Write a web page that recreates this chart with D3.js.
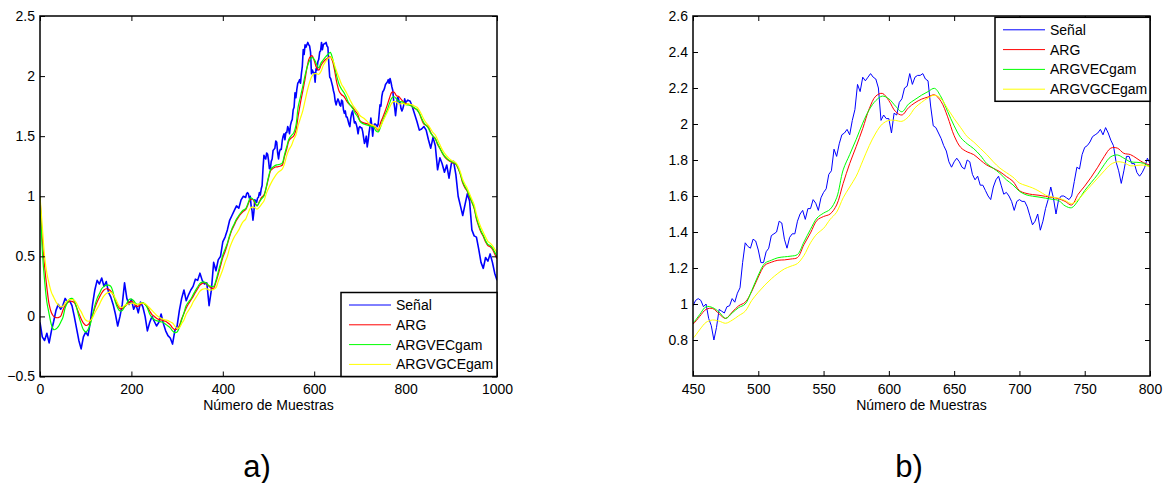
<!DOCTYPE html>
<html>
<head>
<meta charset="utf-8">
<script src="https://cdn.jsdelivr.net/npm/d3@7/dist/d3.min.js"></script>
<style>
  body { margin: 0; background: #ffffff; }
  text { font-family: "Liberation Sans", Arial, Helvetica, sans-serif; }
</style>
</head>
<body>
<svg id="fig" width="1172" height="483"></svg>
<script>
// ---- series names ----
const series = ["Señal", "ARG", "ARGVECgam", "ARGVGCEgam"];

// ---- measured signal: samples 0..450 every 5 ----
const senalTramo1 = [
  -0.05,-0.17,-0.2,-0.14,-0.22,-0.12,-0.04,0.05,0.1,0.06,
  0.09,0.15,0.12,0.13,0.09,0.0,-0.1,-0.2,-0.27,-0.17,
  -0.13,-0.16,-0.05,0.1,0.22,0.3,0.27,0.32,0.25,0.29,
  0.2,0.16,0.1,0.02,-0.08,0.0,0.1,0.28,0.15,0.1,
  0.14,0.06,0.1,0.03,0.12,0.08,0.0,-0.12,-0.05,0.0,
  -0.04,-0.08,-0.05,0.02,-0.06,-0.12,-0.16,-0.18,-0.23,-0.12,
  -0.08,0.05,0.15,0.22,0.13,0.18,0.22,0.25,0.31,0.3,
  0.36,0.3,0.27,0.28,0.09,0.22,0.45,0.38,0.47,0.5,
  0.62,0.66,0.72,0.8,0.84,0.88,0.92,0.9,0.97,1.0,
  0.99
];
// ---- measured signal: samples 452..800 every 2 ----
const senalTramo2 = [
  1.02,1.03,1.02,0.985,1.0,0.92,0.88,0.8,0.87,0.97,
  0.96,0.95,0.985,0.99,1.03,1.01,1.06,1.09,1.23,1.34,
  1.32,1.31,1.36,1.35,1.3,1.23,1.23,1.29,1.31,1.38,
  1.39,1.4,1.46,1.45,1.36,1.31,1.37,1.39,1.39,1.46,
  1.5,1.52,1.47,1.53,1.53,1.58,1.56,1.52,1.59,1.62,
  1.64,1.72,1.74,1.86,1.82,1.89,1.94,1.95,1.97,1.94,
  2.02,2.08,2.22,2.18,2.26,2.24,2.26,2.28,2.26,2.25,
  2.2,2.02,2.05,2.03,2.03,1.95,2.06,2.05,2.12,2.14,
  2.2,2.21,2.28,2.22,2.26,2.27,2.27,2.28,2.25,2.24,
  2.1,1.99,1.98,1.95,1.92,1.88,1.85,1.79,1.76,1.79,
  1.81,1.79,1.76,1.75,1.8,1.79,1.72,1.69,1.71,1.66,
  1.66,1.63,1.6,1.58,1.65,1.69,1.71,1.66,1.61,1.62,
  1.6,1.57,1.52,1.57,1.58,1.57,1.57,1.54,1.49,1.44,
  1.46,1.5,1.41,1.46,1.53,1.58,1.65,1.59,1.5,1.58,
  1.6,1.6,1.59,1.58,1.6,1.68,1.76,1.75,1.83,1.87,
  1.88,1.9,1.93,1.94,1.95,1.97,1.94,1.98,1.95,1.91,
  1.88,1.79,1.74,1.67,1.74,1.82,1.82,1.78,1.78,1.73,
  1.71,1.73,1.76,1.81,1.78
];
// ---- measured signal: samples 805..1000 every 5 ----
const senalTramo3 = [
  1.8,1.79,1.74,1.68,1.62,1.55,1.56,1.58,1.55,1.47,
  1.4,1.49,1.42,1.22,1.32,1.27,1.2,1.26,1.15,1.27,
  1.29,1.18,1.0,0.92,0.84,0.93,1.02,0.96,0.72,0.67,
  0.66,0.56,0.45,0.4,0.49,0.46,0.52,0.45,0.36,0.3
];

// ---- estimates, samples 0..1000 every 5 ----
const estArg = [
  1.0,0.65,0.42,0.24,0.1,0.03,0.0,-0.01,-0.01,0.0,
  0.05,0.09,0.115,0.125,0.125,0.115,0.075,0.025,-0.02,-0.055,
  -0.075,-0.07,-0.04,0.01,0.07,0.12,0.16,0.195,0.22,0.23,
  0.225,0.21,0.18,0.13,0.09,0.065,0.065,0.08,0.1,0.12,
  0.125,0.115,0.085,0.085,0.1,0.11,0.1,0.08,0.045,0.015,
  0.0,-0.015,-0.025,-0.03,-0.035,-0.04,-0.055,-0.07,-0.095,-0.11,
  -0.105,-0.075,-0.02,0.025,0.07,0.105,0.135,0.165,0.2,0.23,
  0.26,0.275,0.28,0.27,0.25,0.235,0.235,0.285,0.35,0.42,
  0.49,0.54,0.6,0.665,0.72,0.76,0.8,0.83,0.855,0.875,
  0.889,0.93,0.97,0.975,0.945,0.92,0.955,0.99,1.01,1.07,
  1.15,1.215,1.232,1.243,1.245,1.25,1.258,1.33,1.395,1.465,
  1.486,1.5,1.55,1.67,1.78,1.875,1.975,2.085,2.155,2.17,
  2.13,2.07,2.05,2.09,2.118,2.138,2.15,2.162,2.125,2.04,
  1.935,1.87,1.845,1.83,1.8,1.772,1.754,1.735,1.708,1.682,
  1.63,1.615,1.608,1.604,1.598,1.592,1.585,1.57,1.55,1.61,
  1.655,1.705,1.76,1.82,1.866,1.866,1.837,1.83,1.808,1.785,
  1.772,1.77,1.76,1.745,1.73,1.72,1.69,1.64,1.6,1.59,
  1.575,1.53,1.5,1.48,1.43,1.4,1.36,1.33,1.31,1.295,
  1.285,1.275,1.265,1.23,1.18,1.11,1.07,1.04,0.99,0.95,
  0.9,0.81,0.75,0.7,0.665,0.62,0.59,0.58,0.56,0.52,
  0.48
];
const estArgVec = [
  1.0,0.55,0.3,0.12,0.02,-0.07,-0.11,-0.105,-0.085,-0.05,
  -0.01,0.07,0.115,0.145,0.15,0.13,0.075,0.0,-0.06,-0.11,
  -0.13,-0.11,-0.065,0.01,0.09,0.15,0.19,0.23,0.25,0.26,
  0.26,0.25,0.2,0.12,0.07,0.045,0.05,0.08,0.11,0.14,
  0.145,0.13,0.105,0.1,0.11,0.115,0.1,0.07,0.02,-0.01,
  -0.025,-0.035,-0.04,-0.045,-0.05,-0.065,-0.08,-0.095,-0.12,-0.135,
  -0.13,-0.09,-0.03,0.03,0.09,0.12,0.145,0.18,0.215,0.245,
  0.275,0.285,0.285,0.275,0.255,0.25,0.25,0.3,0.37,0.44,
  0.51,0.56,0.61,0.675,0.73,0.77,0.81,0.84,0.865,0.885,
  0.896,0.94,0.985,0.98,0.955,0.92,0.95,0.98,1.0,1.075,
  1.16,1.226,1.243,1.257,1.262,1.266,1.275,1.345,1.415,1.478,
  1.505,1.526,1.59,1.745,1.83,1.915,2.005,2.08,2.13,2.155,
  2.14,2.1,2.068,2.11,2.136,2.16,2.18,2.198,2.15,2.07,
  1.99,1.925,1.89,1.863,1.826,1.78,1.754,1.726,1.69,1.662,
  1.626,1.607,1.599,1.594,1.588,1.582,1.575,1.545,1.535,1.575,
  1.63,1.675,1.72,1.775,1.818,1.828,1.81,1.79,1.787,1.782,
  1.763,1.76,1.755,1.745,1.735,1.72,1.69,1.65,1.61,1.59,
  1.565,1.525,1.5,1.48,1.44,1.4,1.365,1.335,1.315,1.3,
  1.29,1.28,1.27,1.235,1.185,1.12,1.08,1.045,1.0,0.955,
  0.905,0.82,0.76,0.71,0.675,0.63,0.6,0.59,0.57,0.535,
  0.5
];
const estArgVgce = [
  1.0,0.75,0.5,0.36,0.27,0.2,0.16,0.12,0.095,0.08,
  0.085,0.11,0.13,0.14,0.14,0.135,0.11,0.07,0.04,0.0,
  -0.03,-0.04,-0.035,-0.01,0.03,0.065,0.1,0.14,0.17,0.19,
  0.2,0.2,0.185,0.15,0.11,0.08,0.075,0.09,0.1,0.105,
  0.11,0.11,0.1,0.1,0.11,0.11,0.105,0.09,0.07,0.05,
  0.03,0.01,-0.005,-0.015,-0.025,-0.03,-0.035,-0.045,-0.055,-0.08,
  -0.1,-0.095,-0.06,-0.03,0.02,0.05,0.08,0.12,0.15,0.18,
  0.21,0.225,0.23,0.23,0.22,0.22,0.225,0.24,0.29,0.34,
  0.39,0.45,0.5,0.57,0.62,0.66,0.69,0.72,0.76,0.79,
  0.81,0.856,0.898,0.911,0.905,0.893,0.91,0.935,0.96,1.02,
  1.065,1.105,1.14,1.17,1.195,1.21,1.225,1.27,1.34,1.39,
  1.42,1.47,1.51,1.59,1.65,1.71,1.795,1.88,1.95,2.0,
  2.02,2.02,2.015,2.04,2.09,2.12,2.145,2.16,2.14,2.085,
  2.03,1.98,1.93,1.9,1.865,1.83,1.79,1.755,1.73,1.705,
  1.672,1.658,1.645,1.627,1.605,1.594,1.588,1.575,1.558,1.58,
  1.62,1.66,1.7,1.74,1.776,1.79,1.785,1.768,1.77,1.772,
  1.763,1.77,1.765,1.76,1.75,1.74,1.715,1.68,1.64,1.61,
  1.59,1.56,1.53,1.51,1.47,1.43,1.39,1.36,1.335,1.315,
  1.3,1.29,1.28,1.25,1.2,1.14,1.1,1.065,1.02,0.975,
  0.93,0.85,0.79,0.74,0.7,0.66,0.625,0.61,0.59,0.56,
  0.53
];

// ---- axis ticks ----
const ticksXa = [0, 200, 400, 600, 800, 1000];
const ticksYa = [-0.5, 0, 0.5, 1, 1.5, 2, 2.5];
const ticksXb = [450, 500, 550, 600, 650, 700, 750, 800];
const ticksYb = [0.8, 1, 1.2, 1.4, 1.6, 1.8, 2, 2.2, 2.4, 2.6];
const etiquetasPanel = ["a)", "b)"];
const tituloX = "Número de Muestras";

// ---- sample indices for each series ----
const muestrasSenal = d3.range(0, 451, 5)
  .concat(d3.range(452, 801, 2))
  .concat(d3.range(805, 1001, 5));
const valoresSenal = senalTramo1.concat(senalTramo2, senalTramo3);
const muestrasEst = d3.range(0, 1001, 5);

const curvas = [
  d3.zip(muestrasSenal, valoresSenal),
  d3.zip(muestrasEst, estArg),
  d3.zip(muestrasEst, estArgVec),
  d3.zip(muestrasEst, estArgVgce)
];
const colores = ["#0000ff", "#ff0000", "#00ff00", "#ffff00"];

const svg = d3.select("#fig");
const defs = svg.append("defs");

function fmtY(d) {
  const s = String(+d.toFixed(2));
  return d < 0 ? "\u2212" + s.slice(1) : s;
}

function dibujarPanel(cfg) {
  const x = d3.scaleLinear().domain(cfg.dominioX).range([cfg.izq, cfg.der]);
  const y = d3.scaleLinear().domain(cfg.dominioY).range([cfg.abajo, cfg.arriba]);
  const g = svg.append("g");

  defs.append("clipPath").attr("id", "clip-" + cfg.id)
    .append("rect")
    .attr("x", cfg.izq).attr("y", cfg.arriba)
    .attr("width", cfg.der - cfg.izq).attr("height", cfg.abajo - cfg.arriba);

  const trazos = g.append("g").attr("clip-path", `url(#clip-${cfg.id})`);
  curvas.forEach((pts, i) => {
    const linea = d3.line()
      .x(d => x(d[0])).y(d => y(d[1]))
      .curve(i === 0 ? d3.curveLinear : d3.curveCatmullRom.alpha(0.5));
    trazos.append("path")
      .datum(pts)
      .attr("d", linea)
      .attr("fill", "none")
      .attr("stroke", colores[i])
      .attr("stroke-width", i === 0 ? cfg.grosorSenal : cfg.grosor)
      .attr("stroke-linejoin", "round");
  });

  const estilo = sel => {
    sel.select(".domain").remove();
    sel.attr("font-size", 14)
       .attr("font-family", '"Liberation Sans", Arial, sans-serif');
    sel.selectAll(".tick line").attr("stroke", "#000").attr("stroke-width", 1);
    sel.selectAll(".tick text").attr("fill", "#000");
  };

  g.append("g").attr("transform", `translate(0,${cfg.abajo})`)
    .call(d3.axisBottom(x).tickValues(cfg.ticksX).tickSize(-5).tickSizeOuter(0)
      .tickPadding(8).tickFormat(d => String(d)))
    .call(estilo);
  g.append("g").attr("transform", `translate(0,${cfg.arriba})`)
    .call(d3.axisTop(x).tickValues(cfg.ticksX).tickSize(-5).tickSizeOuter(0).tickFormat(""))
    .call(estilo);
  g.append("g").attr("transform", `translate(${cfg.izq},0)`)
    .call(d3.axisLeft(y).tickValues(cfg.ticksY).tickSize(-5).tickSizeOuter(0)
      .tickPadding(5).tickFormat(fmtY))
    .call(estilo);
  g.append("g").attr("transform", `translate(${cfg.der},0)`)
    .call(d3.axisRight(y).tickValues(cfg.ticksY).tickSize(-5).tickSizeOuter(0).tickFormat(""))
    .call(estilo);

  // axes box
  g.append("rect")
    .attr("x", cfg.izq).attr("y", cfg.arriba)
    .attr("width", cfg.der - cfg.izq).attr("height", cfg.abajo - cfg.arriba)
    .attr("fill", "none").attr("stroke", "#000").attr("stroke-width", 1.5);

  // legend
  const ley = g.append("g");
  ley.append("rect")
    .attr("x", cfg.leyX).attr("y", cfg.leyY)
    .attr("width", cfg.leyAncho).attr("height", 84)
    .attr("fill", "#fff").attr("stroke", "#000").attr("stroke-width", 1.5);
  series.forEach((s, i) => {
    const yy = cfg.leyY + 12.5 + i * 19.8;
    ley.append("line")
      .attr("x1", cfg.leyX + 8).attr("x2", cfg.leyX + 50)
      .attr("y1", yy).attr("y2", yy)
      .attr("stroke", colores[i]).attr("stroke-width", 1);
    ley.append("text")
      .attr("x", cfg.leyX + 55).attr("y", yy).attr("dy", "0.36em")
      .attr("font-size", 14).attr("fill", "#000")
      .text(s);
  });

  // x axis title
  g.append("text")
    .attr("x", (cfg.izq + cfg.der) / 2).attr("y", 410)
    .attr("text-anchor", "middle").attr("font-size", 14).attr("fill", "#000")
    .text(tituloX);

  // panel label
  g.append("text")
    .attr("x", cfg.etiquetaX).attr("y", 477)
    .attr("text-anchor", "middle").attr("font-size", 31).attr("fill", "#000")
    .text(cfg.etiqueta);
}

dibujarPanel({
  id: "a", izq: 40, der: 497, arriba: 16, abajo: 376.5,
  dominioX: [0, 1000], dominioY: [-0.5, 2.5],
  ticksX: ticksXa, ticksY: ticksYa,
  grosorSenal: 1.6, grosor: 1.2,
  leyX: 341, leyY: 292.5, leyAncho: 156,
  etiqueta: etiquetasPanel[0], etiquetaX: 257
});

dibujarPanel({
  id: "b", izq: 693, der: 1150, arriba: 16, abajo: 376,
  dominioX: [450, 800], dominioY: [0.6, 2.6],
  ticksX: ticksXb, ticksY: ticksYb,
  grosorSenal: 1, grosor: 1,
  leyX: 995, leyY: 17.3, leyAncho: 155,
  etiqueta: etiquetasPanel[1], etiquetaX: 909
});
</script>
</body>
</html>
